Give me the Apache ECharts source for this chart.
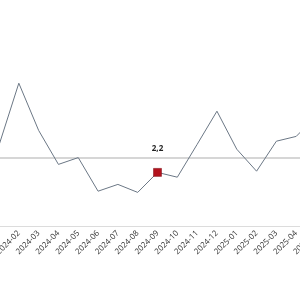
<!DOCTYPE html>
<html>
<head>
<meta charset="utf-8">
<script src="https://cdn.jsdelivr.net/npm/echarts@6/dist/echarts.min.js"></script>
<style>
html,body{margin:0;padding:0;width:300px;height:300px;overflow:hidden;background:#fff;}
#c{position:absolute;left:-40px;top:0;width:400px;height:300px;}
</style>
</head>
<body>
<div id="c"></div>
<script>
const categories = ['2024-01','2024-02','2024-03','2024-04','2024-05','2024-06','2024-07','2024-08','2024-09','2024-10','2024-11','2024-12','2025-01','2025-02','2025-03','2025-04','2025-05'];
const values = [2.52, 4.07, 2.89, 2.04, 2.21, 1.37, 1.54, 1.34, 1.84, 1.72, 2.54, 3.37, 2.42, 1.87, 2.62, 2.74, 3.24];
const refValue = 2.2;
const refLabel = '2,2';
const highlightCategory = '2024-09';
const highlightValue = values[categories.indexOf(highlightCategory)];

const chart = echarts.init(document.getElementById('c'), null, {renderer: 'canvas'});
chart.setOption({
  animation: false,
  textStyle: {fontFamily: 'Open Sans, Liberation Sans, sans-serif'},
  grid: {left: 39, right: 44, top: 6, bottom: 74, containLabel: false, outerBoundsMode: 'none'},
  xAxis: {
    type: 'category',
    data: categories,
    boundaryGap: false,
    axisLine: {lineStyle: {color: '#dcdcdc', width: 1}},
    axisTick: {show: false},
    splitLine: {show: false},
    axisLabel: {rotate: 45, fontSize: 8, color: '#333', interval: 0, margin: 6}
  },
  yAxis: {
    type: 'value',
    min: 0.5,
    max: 6,
    show: false,
    splitLine: {show: false}
  },
  series: [{
    type: 'line',
    data: values,
    showSymbol: false,
    symbol: 'none',
    lineStyle: {color: '#6b7785', width: 1},
    itemStyle: {color: '#6b7785'},
    z: 3,
    markLine: {
      silent: true,
      symbol: ['none','none'],
      lineStyle: {color: '#c8c8c8', width: 1.5, type: 'solid'},
      label: {show: true, position: 'middle', formatter: refLabel, fontSize: 8, fontWeight: 'bold', color: '#222'},
      data: [{yAxis: refValue}],
      z: 1
    },
    markPoint: {
      symbol: 'rect',
      symbolSize: 8,
      itemStyle: {color: '#b3121d', borderColor: '#7d0a12', borderWidth: 0.5},
      label: {show: false},
      data: [{coord: [highlightCategory, highlightValue]}]
    }
  }]
});
</script>
</body>
</html>
